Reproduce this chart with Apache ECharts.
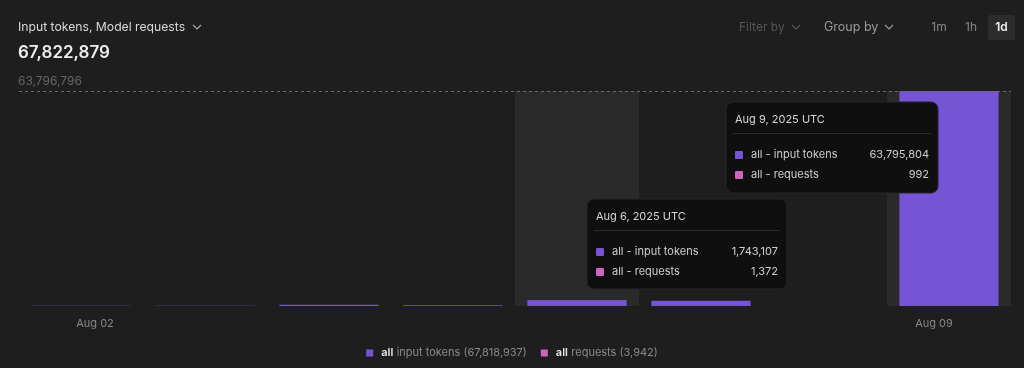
<!DOCTYPE html>
<html><head><meta charset="utf-8">
<script src="https://cdn.jsdelivr.net/npm/echarts@6/dist/echarts.min.js"></script>
<style>html,body{margin:0;padding:0;background:#1e1e1e;}#c{width:1024px;height:368px;}</style>
</head><body><div id="c"></div>
<script>
const categories = ['Aug 02','Aug 03','Aug 04','Aug 05','Aug 06','Aug 07','Aug 08','Aug 09'];
const tooltipDates = ['Aug 2, 2025 UTC','Aug 3, 2025 UTC','Aug 4, 2025 UTC','Aug 5, 2025 UTC','Aug 6, 2025 UTC','Aug 7, 2025 UTC','Aug 8, 2025 UTC','Aug 9, 2025 UTC'];
const inputTokens = [55000, 60000, 350000, 250000, 1743107, 1560000, 5026, 63795804];
const requests = [120, 150, 420, 310, 1372, 520, 58, 992];
const highlighted = [4, 7];
const shownLabels = [0, 7];

const fmt = v => v.toLocaleString('en-US');
const totals = inputTokens.map((v,i)=>v+requests[i]);
const maxTotal = Math.max(...totals);
const sumTokens = inputTokens.reduce((a,b)=>a+b,0);
const sumReq = requests.reduce((a,b)=>a+b,0);
const FONT = 'Inter, "Noto Sans", sans-serif';
const PURPLE = '#7554d6', PINK = '#d062c0';

const chart = echarts.init(document.getElementById('c'), null, {renderer:'canvas'});

function chevron(x, y, color){
  return {type:'polyline', shape:{points:[[x,y-2],[x+4,y+2],[x+8,y-2]]}, style:{stroke:color, lineWidth:1.2, fill:null}};
}
function tip(idx, left, top, w, h){
  const els = [];
  els.push({type:'rect', shape:{x:left, y:top, width:w, height:h, r:7}, style:{fill:'#0f0f0f', stroke:'#262626', lineWidth:1}, z:100});
  els.push({type:'text', x:left+9, y:top+18, style:{text:tooltipDates[idx], fill:'#d6d6d6', font:'11px '+FONT, textVerticalAlign:'middle'}, z:101});
  els.push({type:'line', shape:{x1:left+7, y1:top+31.5, x2:left+w-7, y2:top+31.5}, style:{stroke:'#2a2a2a', lineWidth:1}, z:101});
  const rows = [['all - input tokens', inputTokens[idx], PURPLE],['all - requests', requests[idx], PINK]];
  rows.forEach((r,k)=>{
    const cy = top + 53 + k*20;
    els.push({type:'rect', shape:{x:left+9, y:cy-4, width:8, height:8, r:1}, style:{fill:r[2]}, z:101});
    els.push({type:'text', x:left+25, y:cy, style:{text:r[0], fill:'#cfcfcf', font:'11px '+FONT, textVerticalAlign:'middle'}, z:101});
    els.push({type:'text', x:left+w-9, y:cy, style:{text:fmt(r[1]), fill:'#cfcfcf', font:'11px '+FONT, textAlign:'right', textVerticalAlign:'middle'}, z:101});
  });
  return els;
}

const graphics = [
  {type:'text', x:18, y:27, style:{text:'Input tokens, Model requests', fill:'#d9d9d9', font:'12.2px '+FONT, textVerticalAlign:'middle'}},
  chevron(193,27,'#aaa'),
  {type:'text', x:18, y:53, style:{text:fmt(sumTokens+sumReq), fill:'#ededed', font:'600 17px '+FONT, textVerticalAlign:'middle'}},
  {type:'text', x:739, y:27, style:{text:'Filter by', fill:'#555', font:'12px '+FONT, textVerticalAlign:'middle'}},
  chevron(792,27,'#555'),
  {type:'text', x:824, y:27, style:{text:'Group by', fill:'#999', font:'12.5px '+FONT, textVerticalAlign:'middle'}},
  chevron(885,27,'#999'),
  {type:'text', x:939, y:27, style:{text:'1m', fill:'#888', font:'12px '+FONT, textAlign:'center', textVerticalAlign:'middle'}},
  {type:'text', x:971, y:27, style:{text:'1h', fill:'#888', font:'12px '+FONT, textAlign:'center', textVerticalAlign:'middle'}},
  {type:'rect', shape:{x:988, y:15, width:27, height:25, r:3}, style:{fill:'#2c2c2c'}},
  {type:'text', x:1001.5, y:27.5, style:{text:'1d', fill:'#f0f0f0', font:'600 12px '+FONT, textAlign:'center', textVerticalAlign:'middle'}},
  ...tip(4, 587, 199, 200, 90),
  ...tip(7, 726, 102, 212, 91)
];

chart.setOption({
  backgroundColor:'#1e1e1e',
  animation:false,
  textStyle:{fontFamily:FONT},
  grid:{left:19, right:13, top:91, bottom:62},
  xAxis:[{
    type:'category', data:categories,
    axisLine:{show:false}, axisTick:{show:false},
    axisLabel:{
      interval:(i)=>shownLabels.includes(i), margin:12, color:'#888', fontSize:11,
      formatter:(v,i)=> i===0 ? '{a|'+v+'}' : '{b|'+v+'}',
      rich:{a:{padding:[0,0,0,28], color:'#888', fontSize:11}, b:{padding:[0,30,0,0], color:'#888', fontSize:11}}
    }
  },{
    type:'category', data:categories, show:false
  }],
  yAxis:{type:'value', min:0, max:maxTotal, show:false, splitLine:{show:false}},
  legend:{
    bottom:4, left:'center', icon:'rect', itemWidth:7, itemHeight:7, itemGap:14,
    data:['input tokens','requests'],
    formatter:(n)=> '{b|all} {n|'+n+' ('+fmt(n==='input tokens'?sumTokens:sumReq)+')}',
    textStyle:{rich:{b:{color:'#e6e6e6', fontWeight:600, fontSize:11, padding:[0,0,0,3]}, n:{color:'#8a8a8a', fontSize:11}}}
  },
  series:[
    {name:'highlight', type:'bar', xAxisIndex:1, barWidth:'100%', silent:true, z:1,
     itemStyle:{color:'#2a2a2a'},
     data:categories.map((c,i)=>highlighted.includes(i)?maxTotal:'-')},
    {name:'input tokens', type:'bar', stack:'s', barWidth:'80%', z:2,
     itemStyle:{color:PURPLE}, data:inputTokens,
     markLine:{silent:true, symbol:'none',
       lineStyle:{color:'#6a6a6a', type:[3,3], width:1},
       label:{position:'insideStartTop', formatter:fmt(maxTotal), color:'#666', fontSize:12, distance:[-1,4]},
       data:[{yAxis:maxTotal}]}},
    {name:'requests', type:'bar', stack:'s', barWidth:'80%', z:2,
     itemStyle:{color:PINK}, data:requests}
  ],
  graphic:graphics
});
</script></body></html>
